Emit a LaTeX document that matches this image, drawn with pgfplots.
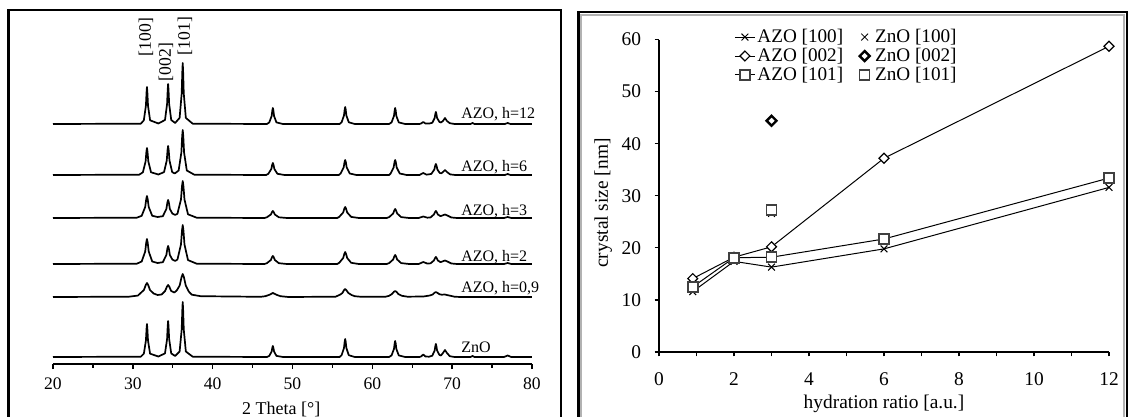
\documentclass[border=0pt]{standalone}
\usepackage{fontspec}
\setmainfont{Liberation Serif}
\usepackage{pgfplots}
\pgfplotsset{compat=1.18}
\pgfplotsset{xrd/.style={black, line width=0.85pt, mark=none, line join=round}}
\newcommand\fTick{\fontsize{8.8}{10.5}\selectfont}
\newcommand\fSer{\fontsize{8}{9.6}\selectfont}
\newcommand\fPk{\fontsize{8.8}{10.5}\selectfont}
\newcommand\fBig{\fontsize{9.7}{11.6}\selectfont}
\newcommand\fLeg{\fontsize{9.6}{11.5}\selectfont}
\begin{document}
\begin{tikzpicture}[x=1pt,y=1pt]
\useasboundingbox (0,0) rectangle (564.5,208.5);
% panel frames
\draw[line width=1.2pt] (4.2,-5) -- (4.2,203.6) -- (280.6,203.6) -- (280.6,-5);
\draw[gray!60, line width=0.8pt] (290.6,-5) -- (290.6,201.1) -- (562.1,201.1) -- (562.1,-5);
\draw[line width=1.1pt] (289.2,-5) -- (289.2,202.5) -- (563.6,202.5) -- (563.6,-5);

% ---------------- XRD patterns ----------------
\begin{axis}[
  at={(26.5pt,26.5pt)}, anchor=south west,
  scale only axis, width=239.5pt, height=177pt,
  xmin=20, xmax=80, ymin=0, ymax=354,
  axis x line=bottom, axis y line=none,
  axis line style={-, line width=0.7pt},
  xtick={20,30,...,80}, minor x tick num=1, ytick=\empty,
  tick align=outside, major tick length=2.6pt, minor tick length=2pt,
  tick style={black, line width=0.7pt},
  /pgf/number format/assume math mode=true,
  x tick label style={font=\fTick, yshift=-0.6pt},
  clip=false,
]
% AZO, h=12
\addplot[xrd] coordinates {(20,240) (31.0,240.3) (31.38,243.7) (31.64,258.5) (31.72,271.8) (31.77,277) (31.82,271.8) (31.90,258.5) (32.16,243.7) (33.2,240.5) (34.03,244) (34.29,260) (34.37,274.4) (34.42,280) (34.47,274.4) (34.55,260) (34.81,244) (35.3,241) (35.86,246.1) (36.12,270.5) (36.20,292.5) (36.25,301) (36.30,292.5) (36.38,270.5) (36.64,246.1) (37.5,240.3) (46.8,240) (47.09,241.6) (47.39,248) (47.48,253.8) (47.54,256) (47.60,253.8) (47.69,248) (47.99,241.6) (48.8,240) (55.9,240) (56.15,241.7) (56.45,248.5) (56.54,254.6) (56.6,257) (56.66,254.6) (56.75,248.5) (57.05,241.7) (57.8,240) (62.1,240) (62.41,241.6) (62.71,248) (62.80,253.8) (62.86,256) (62.92,253.8) (63.01,248) (63.31,241.6) (64.1,240) (65.9,240) (66.1,240.5) (66.38,242) (66.65,240.5) (67.1,240.4) (67.51,241.2) (67.81,246) (67.90,250.3) (67.96,252) (68.02,250.3) (68.11,246) (68.41,242) (68.6,241.5) (68.85,243) (69.1,246) (69.35,243) (69.7,240.8) (70.3,240) (72.3,240) (72.56,241) (72.8,240) (76.6,240) (76.95,241) (77.3,240) (80,240)};
% AZO, h=6
\addplot[xrd] coordinates {(20,189) (30.8,189.3) (31.26,191.7) (31.60,202.5) (31.70,212.2) (31.77,216) (31.84,212.2) (31.94,202.5) (32.28,191.7) (33.2,189.5) (33.91,191.9) (34.25,203.5) (34.35,213.9) (34.42,218) (34.49,213.9) (34.59,203.5) (34.93,191.9) (35.25,190.5) (35.74,193.5) (36.08,211.5) (36.18,227.7) (36.25,234) (36.32,227.7) (36.42,211.5) (36.76,193.5) (37.7,189.3) (46.7,189) (46.97,190.2) (47.35,195) (47.46,199.3) (47.54,201) (47.62,199.3) (47.73,195) (48.11,190.2) (49,189) (55.8,189) (56.03,190.5) (56.41,196.5) (56.52,201.9) (56.6,204) (56.68,201.9) (56.79,196.5) (57.17,190.5) (58,189) (62.1,189) (62.29,190.5) (62.67,196.5) (62.78,201.9) (62.86,204) (62.94,201.9) (63.05,196.5) (63.43,190.5) (64.3,189) (65.9,189) (66.38,191) (66.8,189.3) (67.39,190.1) (67.77,194.5) (67.88,198.5) (67.96,200) (68.04,198.5) (68.15,194.5) (68.45,191) (68.65,190.7) (68.85,192) (69.1,194) (69.35,192) (69.75,189.6) (70.4,189) (76.6,189) (76.95,190) (77.3,189) (80,189)};
% AZO, h=3
\addplot[xrd] coordinates {(20,146) (30.5,146.3) (31.11,148.2) (31.55,157) (31.68,164.9) (31.77,168) (31.86,164.9) (31.99,157) (32.43,148.2) (33.1,147) (33.76,147.8) (34.2,155) (34.33,161.5) (34.42,164) (34.51,161.5) (34.64,155) (34.95,150.5) (35.3,149) (35.59,150.3) (36.03,164.5) (36.16,177.8) (36.25,183) (36.34,177.8) (36.47,164.5) (36.91,149.7) (38,146.3) (46.5,146) (46.79,146.7) (47.29,149.5) (47.44,152) (47.54,153) (47.64,152) (47.79,149.5) (48.29,146.7) (49.3,146) (55.6,146) (55.85,147.1) (56.35,151.5) (56.5,155.5) (56.6,157) (56.7,155.5) (56.85,151.5) (57.35,147.1) (58.3,146) (61.8,146) (62.11,146.9) (62.61,150.5) (62.76,153.7) (62.86,155) (62.96,153.7) (63.11,150.5) (63.61,146.9) (64.6,146) (65.8,146) (66.38,147.5) (66.9,146.3) (67.3,146.6) (67.71,149.5) (67.86,152) (67.96,153) (68.06,152) (68.21,149.5) (68.55,147.8) (68.8,148.6) (69.1,149.5) (69.4,148.5) (69.9,146.5) (70.6,146) (76.5,146) (76.95,147) (77.4,146) (80,146)};
% AZO, h=2
\addplot[xrd] coordinates {(20,100) (30.5,100.3) (31.11,102.5) (31.55,112.5) (31.68,121.5) (31.77,125) (31.86,121.5) (31.99,112.5) (32.43,102.5) (33.1,101) (33.76,101.8) (34.2,109) (34.33,115.5) (34.42,118) (34.51,115.5) (34.64,109) (34.95,104.5) (35.3,103) (35.59,104.5) (36.03,119.5) (36.16,133.5) (36.25,139) (36.34,133.5) (36.47,119.5) (36.91,103.9) (38,100.3) (46.5,100) (46.79,100.8) (47.29,104) (47.44,106.9) (47.54,108) (47.64,106.9) (47.79,104) (48.29,100.8) (49.3,100) (55.6,100) (55.85,101.2) (56.35,106) (56.5,110.3) (56.6,112) (56.7,110.3) (56.85,106) (57.35,101.2) (58.3,100) (61.8,100) (62.11,100.9) (62.61,104.5) (62.76,107.7) (62.86,109) (62.96,107.7) (63.11,104.5) (63.61,100.9) (64.6,100) (65.8,100) (66.38,102) (66.9,100.4) (67.3,100.7) (67.71,103.5) (67.86,106) (67.96,107) (68.06,106) (68.21,103.5) (68.55,101.8) (68.8,102.6) (69.1,103.5) (69.4,102.5) (69.9,100.5) (70.6,100) (76.5,100) (76.95,101) (77.4,100) (80,100)};
% AZO, h=0,9
\addplot[xrd] coordinates {(20,67) (29.5,67.3) (30.63,68.4) (31.39,74) (31.62,79) (31.77,81) (31.92,79) (32.15,74) (32.6,70.5) (33.1,69) (33.6,69.5) (34.04,73) (34.27,77.3) (34.42,79) (34.57,77.3) (34.8,73) (35.2,71.5) (35.5,73.5) (35.87,78.5) (36.1,86.8) (36.25,90) (36.4,86.8) (36.63,78.5) (37.0,72.5) (37.39,69.3) (38.5,67.8) (46,67.2) (46.6,67.8) (47.1,69.2) (47.54,71) (48.0,69.2) (48.5,67.8) (49.5,67) (55.4,67.3) (56.0,69.5) (56.25,71) (56.45,73.8) (56.6,75) (56.75,73.8) (57.0,71) (57.4,69) (57.8,67.8) (58.6,67.2) (61.6,67.2) (62.1,68.2) (62.46,70) (62.7,72.2) (62.86,73) (63.02,72.2) (63.26,70) (63.7,68.2) (64.4,67.3) (66.4,67.5) (67.2,68.5) (67.56,69.5) (67.8,71.3) (67.96,72) (68.12,71.3) (68.4,69.8) (68.7,69.3) (69.1,69.5) (69.5,68.7) (70.3,67.3) (71,67) (80,67)};
% ZnO
\addplot[xrd] coordinates {(20,7) (31.0,7.3) (31.38,10.3) (31.64,23.5) (31.72,35.4) (31.77,40) (31.82,35.4) (31.90,23.5) (32.16,10.3) (33.2,7.5) (34.03,10.6) (34.29,25) (34.37,38) (34.42,43) (34.47,38) (34.55,25) (34.81,10.6) (35.3,8) (35.86,12.5) (36.12,34.5) (36.20,54.3) (36.25,62) (36.30,54.3) (36.38,34.5) (36.64,12.5) (37.5,7.3) (46.8,7) (47.09,8.1) (47.39,12.5) (47.48,16.5) (47.54,18) (47.60,16.5) (47.69,12.5) (47.99,8.1) (48.8,7) (55.9,7) (56.15,8.8) (56.45,16) (56.54,22.5) (56.6,25) (56.66,22.5) (56.75,16) (57.05,8.8) (57.8,7) (62.1,7) (62.41,8.6) (62.71,15) (62.80,20.8) (62.86,23) (62.92,20.8) (63.01,15) (63.31,8.6) (64.1,7) (65.9,7) (66.1,7.5) (66.38,9.5) (66.65,7.5) (67.1,7.3) (67.51,8.3) (67.81,13.5) (67.90,18.2) (67.96,20) (68.02,18.2) (68.11,13.5) (68.41,9) (68.6,8.5) (68.85,11) (69.1,14) (69.35,11) (69.7,7.8) (70.3,7) (72.3,7) (72.56,8) (72.8,7) (76.5,7) (76.95,8.5) (77.4,7) (80,7)};
% trace labels
\node[anchor=base west, inner sep=0, font=\fSer] at (axis cs:71.1,245) {AZO, h=12};
\node[anchor=base west, inner sep=0, font=\fSer] at (axis cs:71.1,192.5) {AZO, h=6};
\node[anchor=base west, inner sep=0, font=\fSer] at (axis cs:71.1,148.5) {AZO, h=3};
\node[anchor=base west, inner sep=0, font=\fSer] at (axis cs:71.1,102.5) {AZO, h=2};
\node[anchor=base west, inner sep=0, font=\fSer] at (axis cs:71.1,71) {AZO, h=0,9};
\node[anchor=base west, inner sep=0, font=\fSer] at (axis cs:71.1,11) {ZnO};
% peak labels
\node[rotate=90, inner sep=0, font=\fPk] at (axis cs:31.65,327) {[100]};
\node[rotate=90, inner sep=0, font=\fPk] at (axis cs:34.15,302) {[002]};
\node[rotate=90, inner sep=0, font=\fPk] at (axis cs:36.53,328) {[101]};
\node[font=\fontsize{9}{10.8}\selectfont] at (axis cs:48.6,-45.5) {2 Theta [°]};
\end{axis}

% ---------------- crystal size ----------------
\begin{axis}[
  at={(329.5pt,32.5pt)}, anchor=south west,
  scale only axis, width=225pt, height=156.25pt,
  xmin=0, xmax=12, ymin=0, ymax=60,
  axis lines=left, axis line style={-, line width=0.6pt},
  xtick={0,2,...,12}, minor x tick num=1, ytick={0,10,...,60},
  tick align=outside, major tick length=2.2pt, minor tick length=2.2pt,
  tick style={black, line width=0.6pt},
  /pgf/number format/assume math mode=true,
  x tick label style={font=\fBig, yshift=-4.6pt},
  y tick label style={font=\fBig, xshift=-3.2pt},
  clip=false,
  legend columns=2, legend cell align=left,
  legend style={draw=none, fill=none, font=\fLeg, at={(axis cs:2.0,62.3)}, anchor=north west,
    inner xsep=0pt, inner ysep=0pt, row sep=0.3pt,
    nodes={inner xsep=1pt, inner ysep=0.5pt},
    /tikz/every even column/.append style={column sep=5.5pt}},
  legend image code/.code={\draw[mark repeat=2,mark phase=2,#1] plot coordinates {(0pt,0pt) (5pt,0pt) (10pt,0pt)};},
  mk/.style={legend image code/.code={\path (-4pt,0pt) (4pt,0pt); \draw[mark repeat=2,mark phase=2,##1] plot coordinates {(-4pt,0pt) (0pt,0pt) (4pt,0pt)};}},
]
\addplot[black, line width=0.5pt, mark=x, mark size=2.4pt] coordinates {(0.9,11.6) (2,17.4) (3,16.3) (6,19.8) (12,31.6)};
\addlegendentry{AZO [100]}
\addplot[black, only marks, mk, mark=x, mark size=2.4pt] coordinates {(3,26.6)};
\addlegendentry{ZnO [100]}
\addplot[black, line width=0.5pt, mark=square*, mark size=1.75pt, mark options={rotate=45, fill=white, line width=0.6pt}] coordinates {(0.9,14.1) (2,18.2) (3,20.2) (6,37.2) (12,58.7)};
\addlegendentry{AZO [002]}
\addplot[black, only marks, mk, mark=square*, mark size=1.75pt, mark options={rotate=45, fill=white, line width=1.2pt}] coordinates {(3,44.4)};
\addlegendentry{ZnO [002]}
\addplot[black, line width=0.5pt, mark=square*, mark size=2.5pt, mark options={fill=white, draw=black!75, line width=0.8pt}] coordinates {(0.9,12.5) (2,18.1) (3,18.2) (6,21.7) (12,33.4)};
\addlegendentry{AZO [101]}
\addplot[black, only marks, mk, mark=square*, mark size=2.5pt, mark options={fill=white, draw=black!75, line width=0.8pt}] coordinates {(3,27.3)};
\addlegendentry{ZnO [101]}
\node[rotate=90, font=\fBig] at (axis cs:-1.49,28.6) {crystal size [nm]};
\node[font=\fBig] at (axis cs:6,-10) {hydration ratio [a.u.]};
\end{axis}
\end{tikzpicture}
\end{document}
